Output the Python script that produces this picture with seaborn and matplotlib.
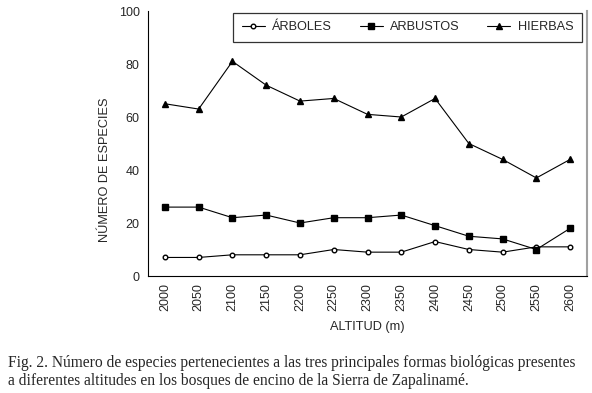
import matplotlib
matplotlib.use("Agg")
import matplotlib.pyplot as plt
import numpy as np
import pandas as pd
import seaborn as sns

# Values
altitudes = ["2000", "2050", "2100", "2150", "2200", "2250", "2300",
             "2350", "2400", "2450", "2500", "2550", "2600"]
arboles = [7, 7, 8, 8, 8, 10, 9, 9, 13, 10, 9, 11, 11]
arbustos = [26, 26, 22, 23, 20, 22, 22, 23, 19, 15, 14, 10, 18]
hierbas = [65, 63, 81, 72, 66, 67, 61, 60, 67, 50, 44, 37, 44]

series_names = ["ÁRBOLES", "ARBUSTOS", "HIERBAS"]

rows = []
for name, vals in zip(series_names, [arboles, arbustos, hierbas]):
    for i, v in enumerate(vals):
        rows.append({"pos": i, "Altitud": altitudes[i], "Forma": name, "Especies": v})
df = pd.DataFrame(rows)

sns.set_style("white")
plt.rcParams["font.family"] = ["Liberation Sans", "DejaVu Sans"]

fig = plt.figure(figsize=(5.92, 3.93), dpi=100)
ax = fig.add_axes([0.25, 0.2977, 0.7416, 0.6743])

markers = {"ÁRBOLES": "o", "ARBUSTOS": "s", "HIERBAS": "^"}
sizes = {"ÁRBOLES": 3.3, "ARBUSTOS": 4.3, "HIERBAS": 4.6}
faces = {"ÁRBOLES": "white", "ARBUSTOS": "black", "HIERBAS": "black"}

for name in series_names:
    sub = df[df["Forma"] == name]
    sns.lineplot(data=sub, x="pos", y="Especies", ax=ax, color="black",
                 linewidth=0.8, marker=markers[name], markersize=sizes[name],
                 markerfacecolor=faces[name], markeredgecolor="black",
                 markeredgewidth=1.0, label=name, legend=False)

ax.set_xlim(-0.5, len(altitudes) - 0.5)
ax.set_ylim(0, 100)
ax.set_yticks(np.arange(0, 101, 20))
ax.set_xticks(np.arange(len(altitudes)))
ax.set_xticklabels(altitudes, rotation=90, fontsize=9)
ax.set_xticks(np.arange(-0.5, len(altitudes), 1), minor=True)
ax.tick_params(axis="x", which="major", length=0, pad=5)
ax.tick_params(axis="x", which="minor", length=4, width=0.8, direction="out", color="black")
ax.tick_params(axis="y", length=4, width=0.8, direction="out", labelsize=9,
               color="black", pad=2)

ax.spines["top"].set_visible(False)
ax.spines["right"].set_color("#a0a0a0")
ax.spines["right"].set_linewidth(1.5)
for side in ["left", "bottom"]:
    ax.spines[side].set_color("black")
    ax.spines[side].set_linewidth(0.8)

ax.set_xlabel("ALTITUD (m)", fontsize=9.2, labelpad=7)
ax.set_ylabel("NÚMERO DE ESPECIES", fontsize=9.2)
ax.yaxis.set_label_coords(-0.084, 0.40)

handles, labels = ax.get_legend_handles_labels()
leg = ax.legend(handles, labels, loc="upper right", ncol=3, fontsize=9.2,
                frameon=True, fancybox=False, edgecolor="black",
                bbox_to_anchor=(0.9886, 0.9925), borderaxespad=0,
                columnspacing=2.15, handlelength=1.8, handletextpad=0.6,
                borderpad=0.65)
leg.get_frame().set_linewidth(0.9)

caption = ("Fig. 2. Número de especies pertenecientes a las tres principales formas biológicas presentes\n"
           "a diferentes altitudes en los bosques de encino de la Sierra de Zapalinamé.")
fig.text(0.013, 0.054, caption, fontsize=11.2, family=["Liberation Serif", "DejaVu Serif"],
         va="center", ha="left", linespacing=1.15)

fig.savefig("out.png", dpi=100)
